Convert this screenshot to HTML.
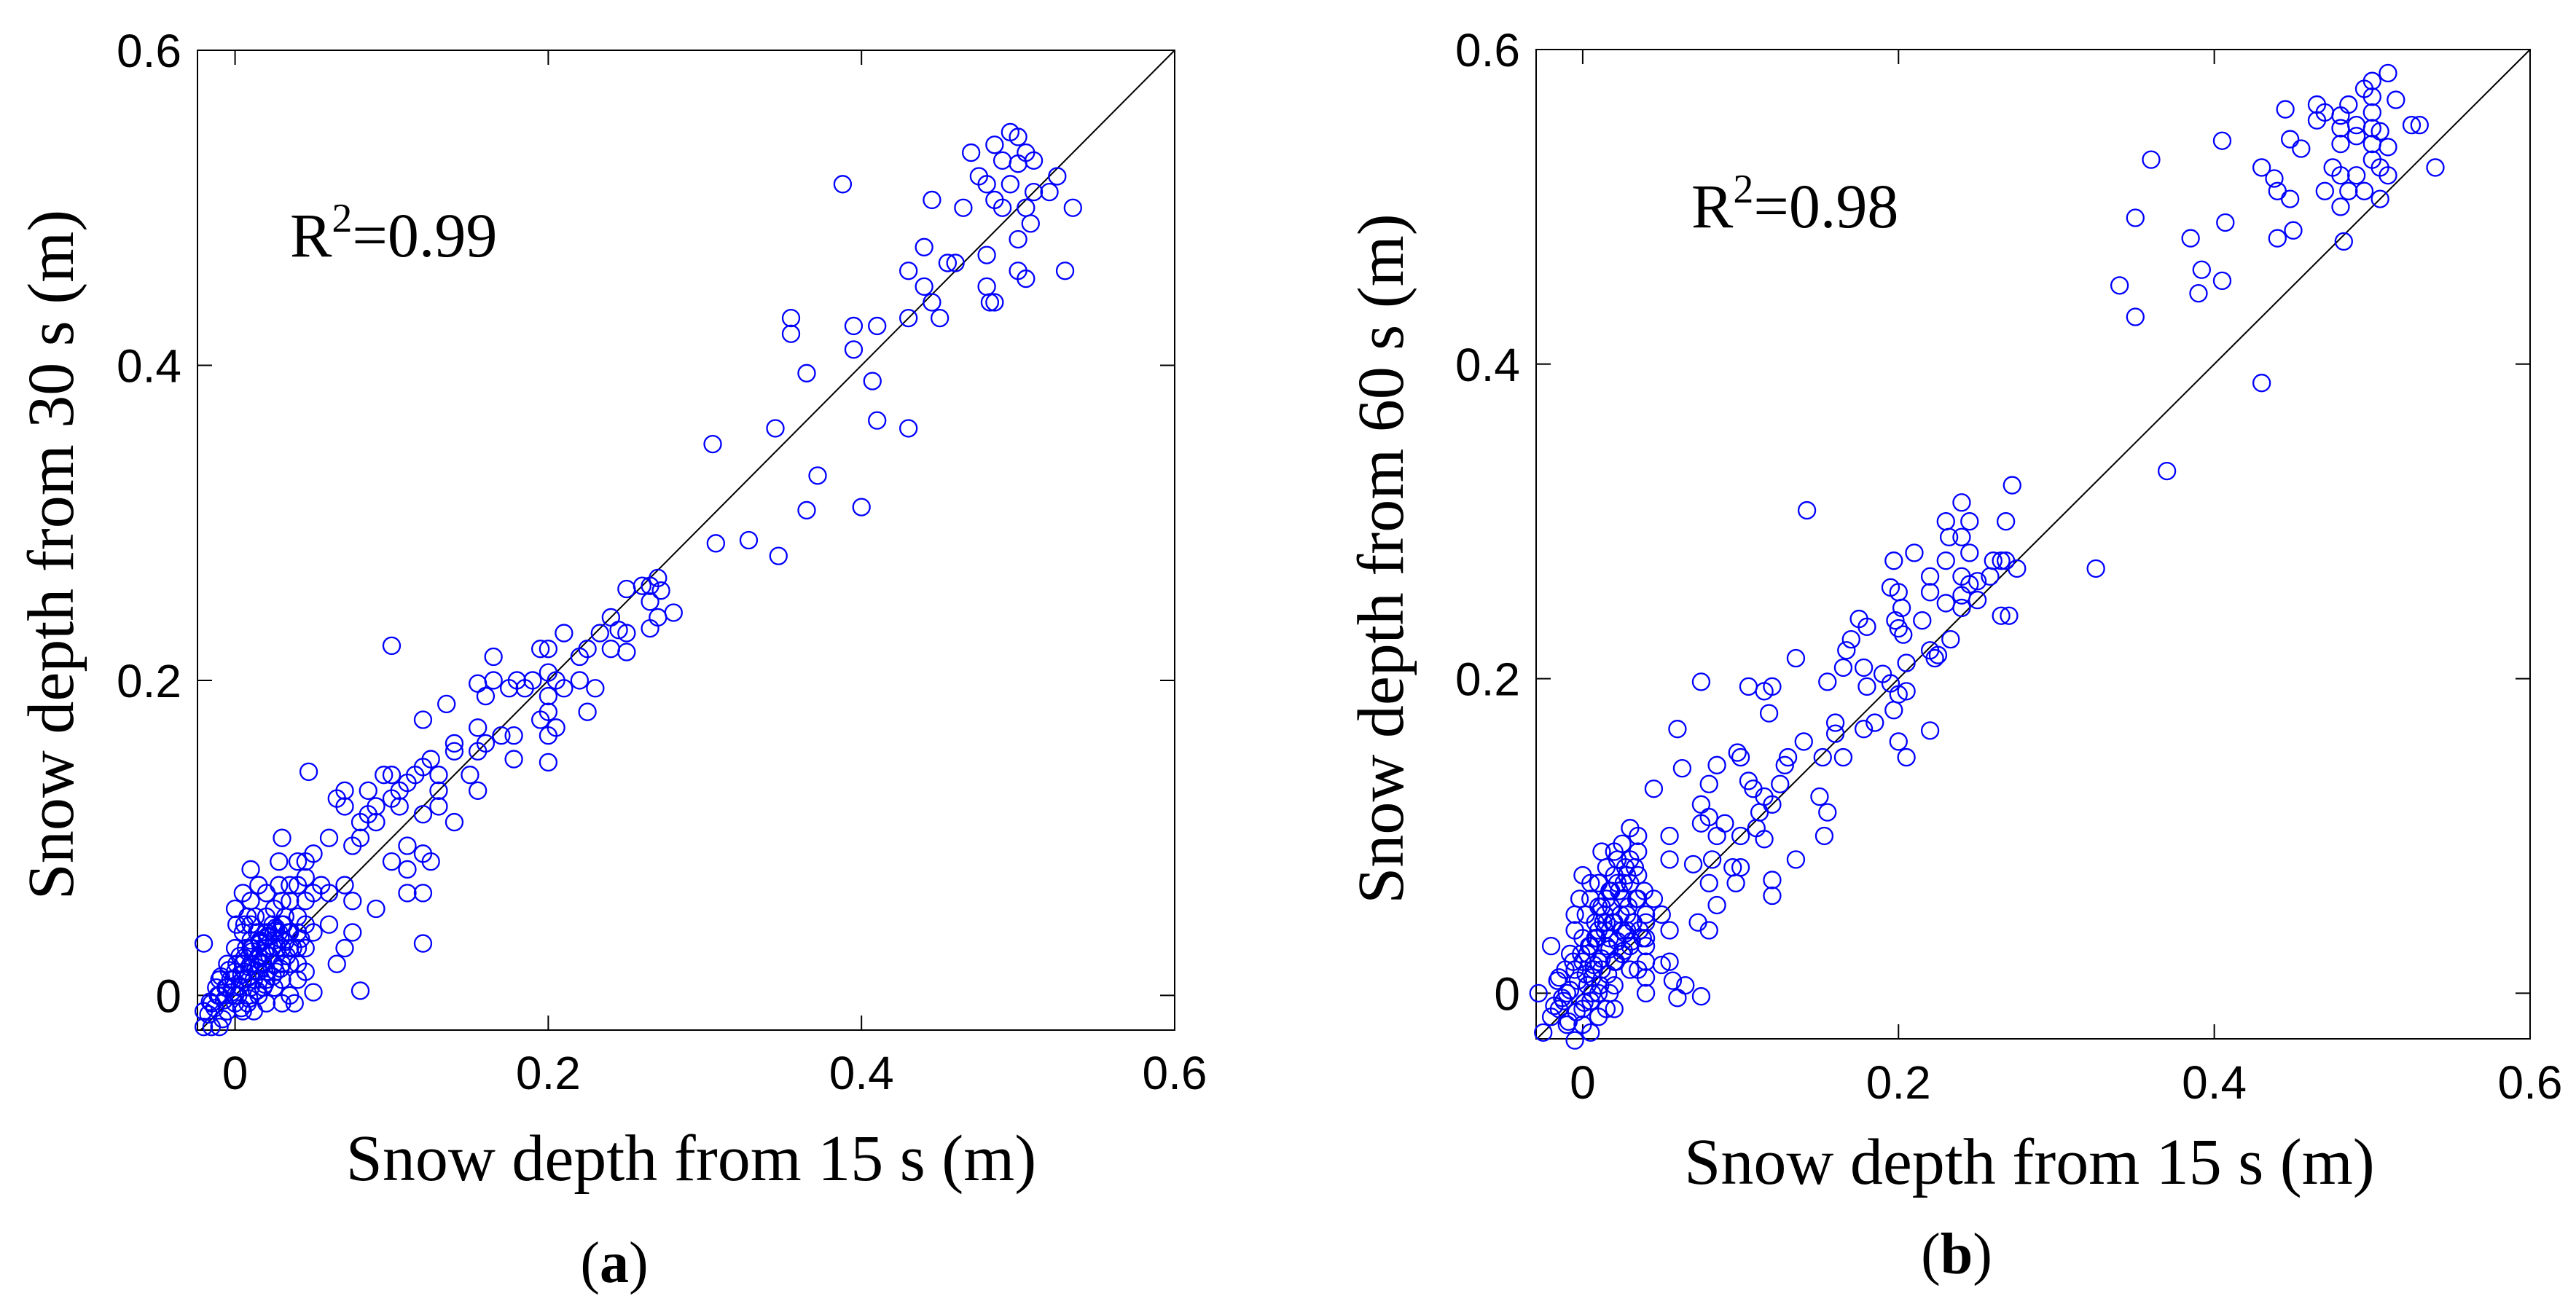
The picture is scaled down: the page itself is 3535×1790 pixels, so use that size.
<!DOCTYPE html>
<html><head><meta charset="utf-8"><style>
html,body{margin:0;padding:0;background:#fff;}
svg{display:block;}
</style></head><body>
<svg id="fig" width="3535" height="1790" viewBox="0 0 3535 1790" xmlns="http://www.w3.org/2000/svg"></svg>
<script>
const ticksVals = [0, 0.2, 0.4, 0.6];
const tickLabels = ["0", "0.2", "0.4", "0.6"];
const r2Labels = ["0.99", "0.98"];
const xA = [0.495,0.5,0.485,0.47,0.49,0.505,0.51,0.5,0.475,0.48,0.495,0.525,0.51,0.485,0.465,0.49,0.505,0.52,0.508,0.535,0.46,0.48,0.5,0.5,0.53,0.505,0.48,0.485,0.482,0.445,0.455,0.44,0.43,0.44,0.445,0.45,0.43,0.388,0.41,0.395,0.395,0.407,0.41,0.43,0.355,0.355,0.365,0.345,0.372,0.365,0.4,0.305,0.307,0.328,0.347,
0.27,0.265,0.272,0.26,0.25,0.265,0.28,0.27,0.265,0.24,0.245,0.25,0.233,0.24,0.25,0.225,0.22,0.21,0.2,0.195,0.2,0.205,0.19,0.185,0.2,0.21,0.22,0.23,0.225,0.2,0.195,0.205,0.2,0.2,0.175,0.165,0.165,0.16,0.155,0.18,0.178,0.178,0.17,0.155,0.16,0.155,0.15,0.155,0.14,0.14,0.135,0.12,0.125,0.13,0.12,0.115,0.11,0.105,0.1,0.095,0.1,0.105,0.12,0.14,0.13,0.13,0.1,0.047,0.085,0.09,0.085,0.08,0.09,0.08,0.075,0.07,0.07,0.065,0.06,0.05,0.045,0.04,0.03,0.028,0.01,0.055,0.06,0.07,0.075,0.1,0.11,0.11,0.12,0.125,0.11,0.12,0.12,0.09,0.08,0.075,0.07,0.065,0.05,0.05,0.06,0.045,0.04,0.035,0.04,0.045,0.05,
-0.02,-0.02,-0.015,-0.01,-0.02,-0.015,-0.01,-0.01,-0.005,-0.005,0,0,0,0.005,0.005,0.005,0.01,0.01,0.01,0.015,0.015,0.015,0.02,0.02,0.02,0.025,0.025,0.03,0.03,0.035,0.025,0.03,0.035,0.03,0.035,0.04,0.04,0.04,0.045,0,0.005,0.01,0.015,0.02,0.025,0.01,0.005,0,-0.005,0.02,0.03,0.008,0.012,0.018,0.022,0.028,-0.012,0.003,0.007,0.016,0.024,0.032,0.012,0.02,-0.008,0.002,0.006,0.014,0.018,0.026,0.035,0.04,0.045,0.045,0.038,0.03,0.01,0.02,-0.003,0.001,0.008,0.028,0.035,
-0.017,-0.013,-0.007,-0.002,0.003,0.008,0.013,0.017,0.022,0.027,0.032,-0.016,-0.011,-0.006,-0.001,0.004,0.009,0.014,0.019,0.024,0.029,0.034,-0.009,-0.004,0.001,0.006,0.011,0.016,0.021,0.026,0.031,0.004,0.009,0.014,0.019,0.024,0.029,0.011,0.016,0.021,0.026,0.033,0.037,0.042,0.006,0.013];
const yA = [0.548,0.545,0.54,0.535,0.53,0.535,0.53,0.528,0.52,0.515,0.515,0.52,0.51,0.505,0.5,0.5,0.5,0.51,0.49,0.5,0.465,0.47,0.48,0.46,0.46,0.455,0.45,0.44,0.44,0.505,0.465,0.475,0.46,0.45,0.44,0.43,0.43,0.515,0.425,0.425,0.41,0.39,0.365,0.36,0.43,0.42,0.395,0.36,0.33,0.308,0.31,0.35,0.287,0.289,0.279,
0.265,0.26,0.257,0.26,0.258,0.25,0.243,0.24,0.233,0.24,0.232,0.23,0.23,0.22,0.218,0.22,0.215,0.23,0.22,0.22,0.205,0.2,0.2,0.195,0.19,0.195,0.2,0.195,0.18,0.18,0.175,0.17,0.165,0.148,0.195,0.215,0.2,0.19,0.198,0.2,0.165,0.15,0.165,0.17,0.16,0.155,0.14,0.13,0.16,0.155,0.185,0.175,0.15,0.14,0.145,0.14,0.135,0.13,0.14,0.14,0.125,0.12,0.115,0.11,0.12,0.13,0.222,0.142,0.13,0.12,0.115,0.11,0.11,0.1,0.095,0.13,0.12,0.125,0.1,0.09,0.085,0.085,0.1,0.085,0.08,0.07,0.065,0.07,0.06,0.085,0.095,0.08,0.09,0.085,0.065,0.065,0.033,0.055,0.003,0.04,0.03,0.02,0.002,0.04,0.045,0.03,0.02,0.06,0.07,0.075,0.065,
0.033,-0.02,-0.02,-0.02,-0.01,-0.005,0,0.01,-0.01,0.005,0.015,0,-0.005,0.01,0.02,-0.01,0.005,0.02,0.03,0.015,0.025,0,0.01,0.03,0.04,0.02,0.035,0.03,0.045,0.04,0.005,0.01,0.02,-0.005,0,0.01,0.04,0.05,0.06,0.055,0.065,0.06,0.07,0.065,0.055,0.045,0.04,0.03,0.02,0.05,0.06,-0.005,0.01,0.02,0.025,0.04,0.005,0.025,0.03,0.035,0.045,0.05,-0.01,-0.005,-0.015,0,0.015,0.04,0.005,0.015,0.03,0.03,0.045,0.015,-0.005,0.02,0.035,0.015,0.01,0.045,0.05,0.07,0.07,
-0.012,-0.008,-0.003,0.002,0.006,0.011,0.016,0.021,0.025,0.03,0.034,-0.004,0.0,0.005,0.01,0.013,0.018,0.023,0.027,0.031,0.036,0.04,0.012,0.016,0.02,0.024,0.028,0.033,0.037,0.041,0.045,-0.008,-0.002,0.003,0.007,0.012,0.017,0.03,0.034,0.038,0.043,0.025,0.03,0.036,0.045,0.05];
const xB = [0.5,0.51,0.495,0.5,0.465,0.485,0.515,0.445,0.47,0.48,0.5,0.465,0.48,0.49,0.5,0.505,0.525,0.53,0.49,0.448,0.405,0.455,0.48,0.5,0.51,0.5,0.505,0.51,0.36,0.43,0.475,0.48,0.49,0.438,0.44,0.47,0.485,0.495,0.505,0.54,0.448,0.48,0.35,0.407,0.45,0.44,0.385,0.482,0.392,0.405,0.34,0.39,0.35,0.43,0.37,0.325,0.142,
0.272,0.24,0.23,0.245,0.268,0.232,0.24,0.245,0.21,0.197,0.23,0.265,0.26,0.268,0.275,0.258,0.24,0.25,0.245,0.22,0.195,0.2,0.22,0.24,0.25,0.23,0.202,0.24,0.265,0.27,0.175,0.198,0.215,0.18,0.2,0.203,0.17,0.233,0.167,0.22,0.225,0.223,0.135,0.205,0.165,0.178,0.19,0.195,0.155,0.075,0.105,0.12,0.18,0.2,0.205,0.115,0.197,0.118,0.185,0.16,0.06,0.178,0.22,0.16,0.2,0.14,0.098,0.1,0.165,0.205,0.13,0.128,0.152,0.085,0.063,0.105,0.108,0.08,0.125,0.045,0.115,0.15,0.12,0.075,0.112,0.155,0.08,0.075,0.09,0.085,0.1,0.11,0.115,0.153,0.055,0.055,0.07,0.082,0.095,0.1,0.08,0.097,0.12,0.12,0.135,0.085,0.073,0.08,0.045,0.05,0.055,0.055,0.05,0.057,0.065,0.06,0.075,0.04,0.04,0.04,
-0.02,-0.028,-0.025,-0.02,-0.015,-0.01,-0.005,-0.01,-0.015,-0.005,0,0.005,0.005,0,0.01,0.01,0.01,0.015,0.015,0.02,0.02,0.02,0.025,0.025,0.03,0.03,0.035,0.035,0.035,0.03,0.035,0.04,0.04,0.04,0.04,0.035,0.03,0.025,0.02,0.02,0.015,0.02,0.01,0.005,0,0.005,-0.005,-0.005,0,0.005,0.01,0.015,0.01,0.012,0.028,0.03,0.025,0.017,0.008,0.003,-0.008,-0.012,0.018,0.022,0.028,0.032,0.038,0.006,0.012,0.002,-0.002,0.026,0.014,0.008,0.017,0,
-0.018,-0.013,-0.008,-0.003,0.002,0.007,0.012,0.017,0.022,0.027,0.032,-0.016,-0.011,-0.006,-0.001,0.004,0.009,0.014,0.019,0.024,0.029,0.034,0.039,-0.009,-0.004,0.001,0.006,0.011,0.016,0.021,0.026,0.031,0.036,0.003,0.008,0.013,0.018,0.023,0.028,0.033,0.012,0.017,0.022,0.027,0.007,0.015];
const yB = [0.58,0.585,0.575,0.57,0.565,0.565,0.568,0.562,0.56,0.558,0.56,0.555,0.55,0.552,0.55,0.548,0.552,0.552,0.545,0.543,0.542,0.537,0.54,0.54,0.538,0.53,0.525,0.52,0.53,0.525,0.525,0.52,0.52,0.518,0.51,0.51,0.51,0.51,0.505,0.525,0.505,0.5,0.493,0.49,0.485,0.48,0.48,0.478,0.46,0.453,0.45,0.445,0.43,0.388,0.332,0.27,0.307,
0.323,0.312,0.3,0.3,0.3,0.29,0.29,0.28,0.28,0.275,0.275,0.275,0.275,0.275,0.27,0.265,0.265,0.262,0.26,0.265,0.258,0.255,0.255,0.253,0.25,0.248,0.245,0.245,0.24,0.24,0.238,0.237,0.237,0.233,0.232,0.228,0.225,0.225,0.218,0.218,0.215,0.213,0.213,0.21,0.207,0.207,0.203,0.197,0.198,0.198,0.195,0.195,0.195,0.19,0.192,0.192,0.18,0.178,0.172,0.172,0.168,0.168,0.167,0.165,0.16,0.16,0.153,0.15,0.15,0.15,0.15,0.145,0.15,0.145,0.143,0.135,0.13,0.133,0.133,0.13,0.125,0.125,0.12,0.12,0.115,0.115,0.112,0.108,0.108,0.1,0.1,0.105,0.098,0.1,0.1,0.085,0.082,0.085,0.08,0.08,0.07,0.07,0.072,0.062,0.085,0.056,0.045,0.04,0.06,0.05,0.04,0.02,0.018,0.008,0.005,-0.003,-0.002,0.045,0.035,0.03,
0.03,0,-0.025,-0.015,-0.01,-0.02,-0.03,0,0.01,0.015,0.02,-0.005,-0.025,-0.01,0,0.02,0.04,0.03,0.06,0.045,0.075,0.09,0.06,0.095,0.085,0.105,0.1,0.09,0.075,0.07,0.06,0.05,0.02,0.01,0,0.015,0.03,0.04,0.02,0.005,-0.01,-0.01,-0.015,0.07,0.075,0.06,0.05,0.04,0.035,0.03,0.055,0.08,0.07,0.09,0.05,0.015,0.025,0.035,0.045,0.005,0.025,-0.005,0.065,0.085,0.04,0.045,0.035,0.01,0.015,0.05,0.06,0.07,0.05,0.035,0,-0.02,
-0.008,-0.003,0.002,0.008,0.012,0.018,0.022,0.028,0.033,0.038,0.045,0.008,0.015,0.02,0.025,0.03,0.035,0.04,0.045,0.05,0.055,0.06,0.065,-0.018,-0.012,-0.006,0.0,0.005,0.012,0.02,0.027,0.033,0.04,0.025,0.035,0.045,0.055,0.065,0.075,0.08,0.055,0.065,0.07,0.08,0.015,0.045];

const NS = "http://www.w3.org/2000/svg";
const svg = document.getElementById('fig');
function mk(tag, attrs, parent){
  const e = document.createElementNS(NS, tag);
  for (const k in attrs) e.setAttribute(k, attrs[k]);
  (parent||svg).appendChild(e);
  return e;
}
const panels = [
  {L:271,R:1612,T:69,B:1414,xmin:-0.024,ymin:-0.022,xs:xA,ys:yA,ytitle:"Snow depth from 30 s (m)",r2x:398,r2y:352,xlabY:1495,xtitY:1620,xtitDx:-8,ytitX:100,cap:"a",capX:843,capY:1760},
  {L:2108,R:3472,T:68,B:1426,xmin:-0.0295,ymin:-0.029,xs:xB,ys:yB,ytitle:"Snow depth from 60 s (m)",r2x:2321,r2y:312,xlabY:1508,xtitY:1625,xtitDx:-20,ytitX:1925,cap:"b",capX:2685,capY:1748}
];
panels.forEach((p,pi)=>{
  const g = mk('g',{});
  
  
  const sx = v => p.L + (v - p.xmin)/(0.6 - p.xmin)*(p.R - p.L);
  const sy = v => p.B - (v - p.ymin)/(0.6 - p.ymin)*(p.B - p.T);
  const frame = mk('rect',{x:p.L,y:p.T,width:p.R-p.L,height:p.B-p.T,fill:'none',stroke:'#000','stroke-width':2},g);
  
  
  ticksVals.forEach((t,i)=>{
    const X=sx(t), Y=sy(t);
    mk('line',{x1:X,y1:p.B,x2:X,y2:p.B-20,stroke:'#000','stroke-width':2},g);
    mk('line',{x1:X,y1:p.T,x2:X,y2:p.T+20,stroke:'#000','stroke-width':2},g);
    mk('line',{x1:p.L,y1:Y,x2:p.L+20,y2:Y,stroke:'#000','stroke-width':2},g);
    mk('line',{x1:p.R,y1:Y,x2:p.R-20,y2:Y,stroke:'#000','stroke-width':2},g);
    const xl = mk('text',{x:X,y:p.xlabY,'text-anchor':'middle','font-family':'Liberation Sans, sans-serif','font-size':64},g);
    xl.textContent = tickLabels[i];
    
    
    const yl = mk('text',{x:p.L-22,y:Y+23,'text-anchor':'end','font-family':'Liberation Sans, sans-serif','font-size':64},g);
    yl.textContent = tickLabels[i];
    
    
  });
  const lo = Math.max(p.xmin,p.ymin);
  const ref = mk('line',{x1:sx(lo),y1:sy(lo),x2:sx(0.6),y2:sy(0.6),stroke:'#000','stroke-width':2},g);
  
  
  for (let i=0;i<p.xs.length;i++){
    const c = mk('circle',{cx:sx(p.xs[i]),cy:sy(p.ys[i]),r:11.5,fill:'none',stroke:'#0000ff','stroke-width':2.3},g);
    
    
  }
  const r2 = mk('text',{x:p.r2x,y:p.r2y,'font-family':'Liberation Serif, serif','font-size':86},g);
  r2.innerHTML = 'R<tspan dy="-34" font-size="56">2</tspan><tspan dy="34">='+r2Labels[pi]+'</tspan>';
  
  
  const xt = mk('text',{x:(p.L+p.R)/2+15+p.xtitDx,y:p.xtitY,'text-anchor':'middle','font-family':'Liberation Serif, serif','font-size':90},g);
  xt.textContent = 'Snow depth from 15 s (m)';
  
  
  const cy = (p.T+p.B)/2+20;
  const yt = mk('text',{x:p.ytitX,y:cy,'text-anchor':'middle','font-family':'Liberation Serif, serif','font-size':90,transform:'rotate(-90 '+p.ytitX+' '+cy+')'},g);
  yt.textContent = p.ytitle;
  
  
  const cap = mk('text',{x:p.capX,y:p.capY,'text-anchor':'middle','font-family':'Liberation Serif, serif','font-size':80},g);
  cap.innerHTML = '(<tspan font-weight="bold">'+p.cap+'</tspan>)';
  
  
});
</script>
</body></html>
